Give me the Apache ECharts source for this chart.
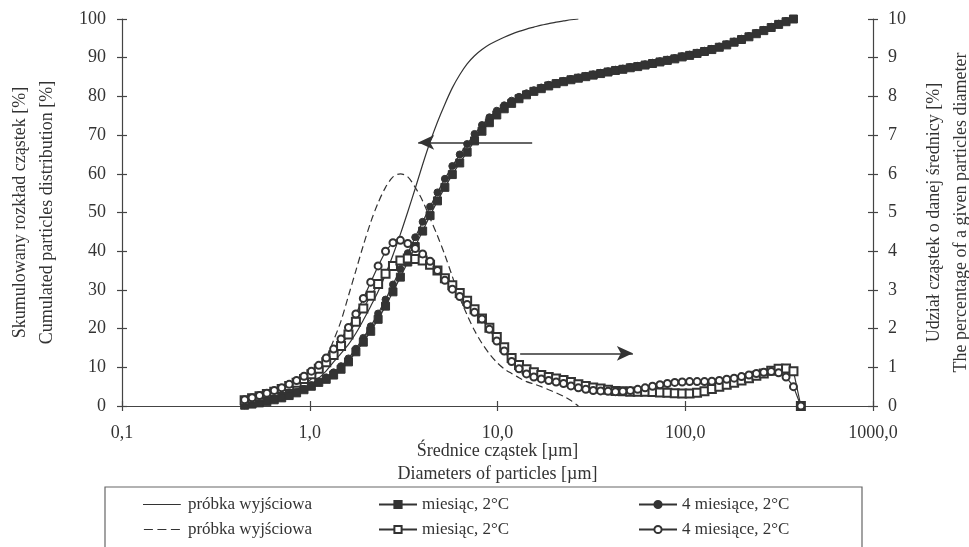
<!DOCTYPE html>
<html lang="pl">
<head>
    <meta charset="UTF-8">
    <title>Rozkład cząstek</title>
    <script src="https://cdn.jsdelivr.net/npm/echarts@6/dist/echarts.min.js"></script>
    <style>
        html, body { margin: 0; padding: 0; background: #fff; }
        #main { width: 969px; height: 547px; }
    </style>
</head>
<body>
<div id="main"></div>
<script type="text/javascript">
// particle diameters [um] (log spaced measurement classes)
var diam = [0.450, 0.493, 0.540, 0.591, 0.647, 0.709, 0.777, 0.851, 0.932, 1.020,
    1.117, 1.224, 1.340, 1.468, 1.608, 1.761, 1.929, 2.112, 2.313, 2.533,
    2.775, 3.039, 3.328, 3.645, 3.993, 4.373, 4.789, 5.245, 5.745, 6.292,
    6.891, 7.547, 8.266, 9.053, 9.913, 10.86, 11.89, 13.02, 14.27, 15.62,
    17.11, 18.74, 20.52, 22.48, 24.62, 26.96, 29.53, 32.34, 35.42, 38.79,
    42.49, 46.53, 50.96, 55.82, 61.13, 66.95, 73.33, 80.31, 87.96, 96.3,
    105.5, 115.6, 126.6, 138.6, 151.8, 166.3, 182.1, 199.4, 218.4, 239.2,
    262.0, 287.0, 314.3, 344.2, 377.0, 412.9];

// cumulated distribution [%] (left axis)
var cumInit = [0.4, 0.7, 1.0, 1.4, 1.8, 2.2, 2.8, 3.6, 4.6, 5.7,
    7.2, 9.1, 11.4, 13.6, 15.9, 18.8, 22.2, 25.8, 29.6, 34.0,
    39.0, 44.4, 50.2, 56.2, 62.4, 68.2, 73.4, 78.0, 82.2, 85.6,
    88.4, 90.5, 92.1, 93.4, 94.4, 95.3, 96.1, 96.8, 97.4, 97.9,
    98.4, 98.8, 99.2, 99.5, 99.8, 100];
var cumMonth = [0.2, 0.5, 0.8, 1.1, 1.6, 2.1, 2.7, 3.4, 4.2, 5.1,
    6.1, 6.9, 8.0, 9.5, 11.4, 14.0, 16.5, 19.3, 22.4, 25.8,
    29.5, 33.3, 37.2, 41.2, 45.2, 49.2, 53.0, 56.5, 59.8, 62.8,
    65.6, 68.5, 71.0, 73.2, 75.2, 76.8, 78.2, 79.4, 80.4, 81.3,
    82.0, 82.7, 83.3, 83.8, 84.3, 84.7, 85.1, 85.5, 85.9, 86.3,
    86.7, 87.0, 87.4, 87.7, 88.1, 88.5, 88.9, 89.3, 89.7, 90.2,
    90.6, 91.1, 91.6, 92.1, 92.7, 93.3, 94.0, 94.7, 95.4, 96.2,
    97.0, 97.8, 98.6, 99.3, 100];
var cumFour = [0.2, 0.5, 0.8, 1.2, 1.7, 2.2, 2.8, 3.6, 4.4, 5.4,
    6.4, 7.4, 8.7, 10.3, 12.3, 14.8, 17.6, 20.6, 23.9, 27.5,
    31.4, 35.4, 39.5, 43.6, 47.6, 51.5, 55.2, 58.7, 62.0, 65.0,
    67.7, 70.3, 72.6, 74.6, 76.3, 77.7, 78.9, 79.9, 80.8, 81.6,
    82.3, 83.0, 83.5, 84.0, 84.5, 84.9, 85.3, 85.7, 86.1, 86.5,
    86.9, 87.2, 87.6, 87.9, 88.3, 88.7, 89.1, 89.5, 89.9, 90.4,
    90.8, 91.3, 91.8, 92.3, 92.9, 93.5, 94.2, 94.9, 95.6, 96.4,
    97.2, 98.0, 98.8, 99.5, 100];

// share of a given diameter [%] (right axis)
var freqInit = [0.05, 0.08, 0.11, 0.15, 0.2, 0.26, 0.33, 0.42, 0.54, 0.7,
    0.92, 1.25, 1.7, 2.2, 2.85, 3.5, 4.15, 4.75, 5.25, 5.65,
    5.92, 6.0, 5.92, 5.65, 5.3, 4.85, 4.4, 3.9, 3.35, 2.8,
    2.35, 1.95, 1.62, 1.35, 1.13, 0.96, 0.84, 0.73, 0.63, 0.57,
    0.5, 0.42, 0.34, 0.25, 0.14, 0];
var freqMonth = [0.15, 0.2, 0.25, 0.31, 0.37, 0.44, 0.52, 0.6, 0.7, 0.82,
    0.96, 1.13, 1.32, 1.55, 1.85, 2.18, 2.52, 2.85, 3.15, 3.42,
    3.62, 3.76, 3.81, 3.8, 3.76, 3.65, 3.5, 3.3, 3.12, 2.92,
    2.72, 2.5, 2.26, 2.02, 1.78, 1.52, 1.24, 1.06, 0.95, 0.87,
    0.8, 0.75, 0.71, 0.67, 0.62, 0.56, 0.52, 0.48, 0.45, 0.42,
    0.39, 0.38, 0.37, 0.37, 0.37, 0.36, 0.35, 0.34, 0.33, 0.32,
    0.32, 0.34, 0.38, 0.44, 0.5, 0.55, 0.6, 0.66, 0.72, 0.78,
    0.84, 0.91, 0.96, 0.97, 0.9, 0];
var freqFour = [0.16, 0.21, 0.27, 0.33, 0.4, 0.47, 0.56, 0.66, 0.77, 0.9,
    1.05, 1.24, 1.47, 1.73, 2.03, 2.38, 2.78, 3.2, 3.62, 4.0,
    4.22, 4.28, 4.2, 4.07, 3.93, 3.74, 3.5, 3.25, 3.02, 2.83,
    2.62, 2.42, 2.25, 1.98, 1.68, 1.42, 1.15, 0.96, 0.83, 0.75,
    0.7, 0.66, 0.62, 0.58, 0.52, 0.47, 0.43, 0.4, 0.39, 0.38,
    0.37, 0.38, 0.4, 0.43, 0.47, 0.51, 0.55, 0.58, 0.61, 0.62,
    0.63, 0.63, 0.63, 0.64, 0.66, 0.69, 0.72, 0.76, 0.8, 0.84,
    0.87, 0.89, 0.86, 0.75, 0.5, 0];

var xTickLabels = ['0,1', '1,0', '10,0', '100,0', '1000,0'];

var legendNames = {
    cumInit: 'próbka wyjściowa',
    freqInit: 'próbka wyjściowa',
    cumMonth: 'miesiąc, 2°C',
    freqMonth: 'miesiąc, 2°C',
    cumFour: '4 miesiące, 2°C',
    freqFour: '4 miesiące, 2°C'
};

// arrows pointing at the axis each group belongs to
var arrowLeft = [[15.3, 68.1], [3.78, 68.1]];
var arrowRight = [[13.2, 1.36], [52.6, 1.36]];

// plain line icons for the two series drawn without markers
var iconSolid = 'path://M0,0L0.01,0L0,0.01Z M0,4.4L42,4.4L42,5.6L0,5.6Z M42,9.99L42,10L41.99,10Z';
var iconDashed = 'path://M0,0L0.01,0L0,0.01Z M1,4.4L11,4.4L11,5.6L1,5.6Z M16,4.4L26,4.4L26,5.6L16,5.6Z M31,4.4L41,4.4L41,5.6L31,5.6Z M42,9.99L42,10L41.99,10Z';

function pairs(vals) {
    var out = [];
    for (var i = 0; i < vals.length; i++) {
        out.push([diam[i], vals[i]]);
    }
    return out;
}

var ink = '#333';
var font = 'Liberation Serif';

var myChart = echarts.init(document.getElementById('main'));

function tickAxis(pos, inside) {
    return {
        position: pos,
        axisLine: { show: !inside, lineStyle: { color: '#444', width: 1.2 } },
        axisTick: { show: true, inside: inside, length: 5, lineStyle: { color: '#444', width: 1.2 } },
        splitLine: { show: false }
    };
}

var xBase = {
    type: 'log', logBase: 10, min: 0.1, max: 1000
};

var x0 = Object.assign({}, xBase, tickAxis('bottom', false), {
    axisLabel: {
        margin: 18, color: ink, fontFamily: font, fontSize: 18,
        formatter: function (v) { return xTickLabels[Math.round(Math.log10(v)) + 1]; }
    },
    name: 'Średnice cząstek [µm]\nDiameters of particles [µm]',
    nameLocation: 'middle',
    nameGap: 34,
    nameMoveOverlap: false,
    nameTextStyle: { color: ink, fontFamily: font, fontSize: 18, lineHeight: 23 }
});
var x1 = Object.assign({}, xBase, tickAxis('bottom', true), { axisLabel: { show: false } });

var yLeft = { type: 'value', min: 0, max: 100, interval: 10 };
var yRight = { type: 'value', min: 0, max: 10, interval: 1 };

var y0 = Object.assign({}, yLeft, tickAxis('left', false), {
    axisLabel: { margin: 16, color: ink, fontFamily: font, fontSize: 18 },
    name: 'Skumulowany rozkład cząstek [%]\nCumulated particles distribution [%]',
    nameLocation: 'middle', nameRotate: 90, nameGap: 61, nameMoveOverlap: false,
    nameTextStyle: { color: ink, fontFamily: font, fontSize: 18, lineHeight: 27 }
});
var y1 = Object.assign({}, yRight, tickAxis('right', false), {
    axisLabel: { margin: 15, color: ink, fontFamily: font, fontSize: 18 },
    name: 'Udział cząstek o danej średnicy [%]\nThe percentage of a given particles diameter',
    nameLocation: 'middle', nameRotate: 90, nameGap: 48, nameMoveOverlap: false,
    nameTextStyle: { color: ink, fontFamily: font, fontSize: 18, lineHeight: 27 }
});
var y2 = Object.assign({}, yLeft, tickAxis('left', true), { axisLabel: { show: false } });
var y3 = Object.assign({}, yRight, tickAxis('right', true), { axisLabel: { show: false } });

function arrow(seg) {
    return {
        silent: true,
        symbol: ['none', 'arrow'],
        symbolSize: [11, 16],
        label: { show: false },
        lineStyle: { color: ink, width: 1.5, type: 'solid' },
        data: [[{ coord: seg[0] }, { coord: seg[1] }]]
    };
}

function lineSeries(name, vals, axis, opts) {
    var s = {
        name: name,
        type: 'line',
        yAxisIndex: axis,
        data: pairs(vals),
        showAllSymbol: true,
        symbol: 'none',
        color: ink,
        lineStyle: { color: ink, width: 1.2 },
        itemStyle: { color: ink, borderColor: ink, borderWidth: 1 },
        emphasis: { disabled: true }
    };
    return Object.assign(s, opts || {});
}

var legendText = { color: ink, fontFamily: font, fontSize: 17, lineHeight: 16 };
function legendCol(left, w, items) {
    return {
        data: items, left: left, top: 496, orient: 'vertical', padding: 0,
        itemWidth: w, itemHeight: 9, itemGap: 8, selectedMode: false,
        formatter: function (n) { return legendNames[n]; },
        textStyle: legendText
    };
}

var plainIcon = { borderWidth: 0, color: ink };

myChart.setOption({
    animation: false,
    grid: { left: 122, right: 96, top: 19, bottom: 141, containLabel: false, outerBoundsMode: 'none' },
    xAxis: [x0, x1],
    yAxis: [y0, y1, y2, y3],
    legend: [
        legendCol(143, 42, [
            { name: 'cumInit', icon: iconSolid, itemStyle: plainIcon },
            { name: 'freqInit', icon: iconDashed, itemStyle: plainIcon }
        ]),
        legendCol(378, 38, ['cumMonth', 'freqMonth']),
        legendCol(638, 38, ['cumFour', 'freqFour'])
    ],
    graphic: [{
        type: 'rect', silent: true,
        shape: { x: 105, y: 487, width: 757, height: 80 },
        style: { fill: 'none', stroke: '#666', lineWidth: 1.2 }
    }],
    series: [
        lineSeries('cumInit', cumInit, 0, { smooth: 0.3, markLine: arrow(arrowLeft) }),
        lineSeries('cumFour', cumFour, 0, { symbol: 'circle', symbolSize: 7 }),
        lineSeries('cumMonth', cumMonth, 0, { symbol: 'rect', symbolSize: 8 }),
        lineSeries('freqInit', freqInit, 1, {
            smooth: 0.3,
            lineStyle: { color: ink, width: 1.2, type: [7, 4] },
            markLine: arrow(arrowRight)
        }),
        lineSeries('freqMonth', freqMonth, 1, { symbol: 'emptyRect', symbolSize: 8 }),
        lineSeries('freqFour', freqFour, 1, { symbol: 'emptyCircle', symbolSize: 7 })
    ]
});
</script>
</body>
</html>
